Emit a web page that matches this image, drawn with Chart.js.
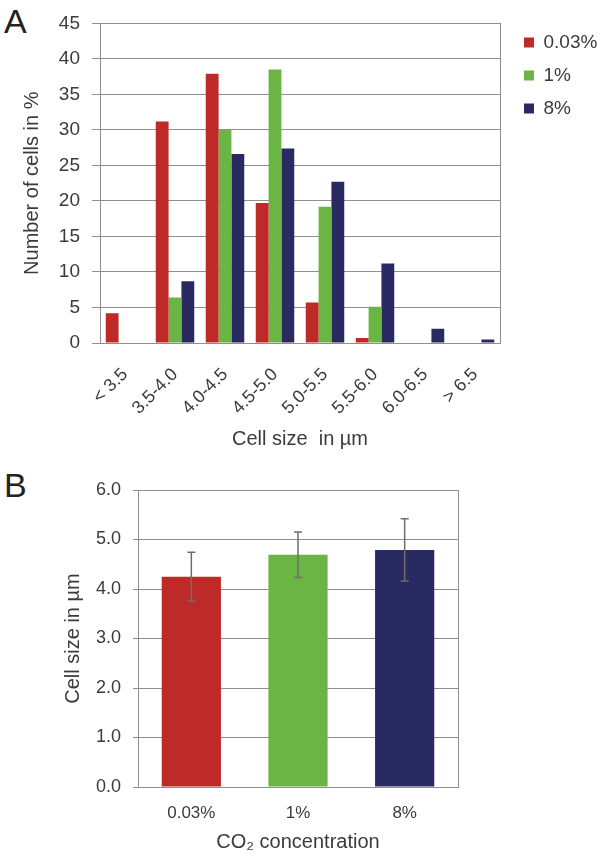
<!DOCTYPE html>
<html>
<head>
<meta charset="utf-8">
<script src="https://cdn.jsdelivr.net/npm/chart.js@4.4.0/dist/chart.umd.min.js"></script>
<style>
  html, body { margin: 0; padding: 0; background: #ffffff; overflow: hidden; }
  body { width: 603px; height: 857px; position: relative; font-family: "Liberation Sans", Arial, sans-serif; }
  .panel-label { position: absolute; font-size: 34px; color: #222; line-height: 1; }
  #wrapA { position: absolute; left: 0; top: 0; width: 603px; height: 455px; }
  #wrapB { position: absolute; left: 0; top: 455px; width: 603px; height: 402px; }
</style>
</head>
<body>
<div class="panel-label" style="left:4px; top:4px;">A</div>
<div class="panel-label" style="left:4px; top:468px;">B</div>
<div id="wrapA"><canvas id="chartA"></canvas></div>
<div id="wrapB"><canvas id="chartB"></canvas></div>
<script>
// ---- Data: panel A (size distribution) ----
const sizeClasses = ['< 3.5', '3.5-4.0', '4.0-4.5', '4.5-5.0', '5.0-5.5', '5.5-6.0', '6.0-6.5', '> 6.5'];
const seriesNames = ['0.03%', '1%', '8%'];
const pct003 = [4.2, 31.2, 37.9, 19.7, 5.7, 0.7, 0, 0];
const pct1   = [0, 6.4, 30.0, 38.5, 19.2, 5.1, 0, 0];
const pct8   = [0, 8.7, 26.6, 27.4, 22.7, 11.2, 2.0, 0.5];
const yTicksA = [0, 5, 10, 15, 20, 25, 30, 35, 40, 45];

// ---- Data: panel B (mean cell size) ----
const co2Levels = ['0.03%', '1%', '8%'];
const meanSize  = [4.25, 4.69, 4.79];
const sdSize    = [0.49, 0.46, 0.63];
const yTicksB = [0, 1, 2, 3, 4, 5, 6];

const colors = ['#bd2a27', '#6bb544', '#2a2a62'];
const gridColor = '#8f8f8f';
const textColor = '#3b3b3b';
const FONT = '"Liberation Sans", Arial, sans-serif';

Chart.defaults.font.family = FONT;
Chart.defaults.color = textColor;

// Chart A
new Chart(document.getElementById('chartA'), {
  type: 'bar',
  data: {
    labels: sizeClasses,
    datasets: [
      { label: seriesNames[0], data: pct003, backgroundColor: colors[0] },
      { label: seriesNames[1], data: pct1, backgroundColor: colors[1] },
      { label: seriesNames[2], data: pct8, backgroundColor: colors[2] }
    ]
  },
  options: {
    responsive: true,
    maintainAspectRatio: false,
    animation: false,
    devicePixelRatio: 1,
    layout: { padding: { left: 0, top: 19, right: 0, bottom: 0 } },
    datasets: { bar: { categoryPercentage: 0.77, barPercentage: 1.0 } },
    plugins: {
      tooltip: { enabled: false },
      legend: {
        position: 'right',
        align: 'start',
        maxWidth: 93,
        labels: {
          boxWidth: 10, boxHeight: 10, padding: 14,
          font: { size: 19, family: FONT }, color: textColor
        }
      }
    },
    scales: {
      x: {
        grid: { display: false, drawTicks: false },
        border: { display: true, color: gridColor, width: 1 },
        ticks: {
          autoSkip: false, minRotation: 45, maxRotation: 45, padding: 21,
          font: { size: 18, family: FONT }, color: textColor
        },
        title: {
          display: true, text: 'Cell size  in µm',
          font: { size: 20, family: FONT }, color: textColor,
          padding: { top: 0, bottom: 4 }
        },
        afterFit: (s) => { s.height = 112; }
      },
      y: {
        min: 0, max: 45,
        afterBuildTicks: (s) => { s.ticks = yTicksA.map(v => ({ value: v })); },
        grid: { color: gridColor, lineWidth: 1, tickLength: 8, tickColor: gridColor },
        border: { display: true, color: gridColor, width: 1 },
        ticks: { padding: 12, font: { size: 19, family: FONT }, color: textColor },
        title: {
          display: true, text: 'Number of cells in %',
          font: { size: 20, family: FONT }, color: textColor,
          padding: { top: 20, bottom: 0 }
        },
        afterFit: (s) => { s.width = 100; }
      },
      y2: {
        position: 'right', min: 0, max: 45,
        grid: { display: false, drawTicks: false },
        border: { display: true, color: gridColor, width: 1 },
        ticks: { display: false },
        afterFit: (s) => { s.width = 10; }
      }
    }
  }
});

// Error bar plugin for chart B
const errorBars = {
  id: 'errorBars',
  afterDatasetsDraw(chart) {
    const ctx = chart.ctx;
    const meta = chart.getDatasetMeta(0);
    const yScale = chart.scales.y;
    ctx.save();
    ctx.strokeStyle = '#6e6e6e';
    ctx.lineWidth = 1.5;
    meta.data.forEach((bar, i) => {
      const x = bar.x;
      const yTop = yScale.getPixelForValue(meanSize[i] + sdSize[i]);
      const yBot = yScale.getPixelForValue(meanSize[i] - sdSize[i]);
      const cap = 4;
      ctx.beginPath();
      ctx.moveTo(x, yTop); ctx.lineTo(x, yBot);
      ctx.moveTo(x - cap, yTop); ctx.lineTo(x + cap, yTop);
      ctx.moveTo(x - cap, yBot); ctx.lineTo(x + cap, yBot);
      ctx.stroke();
    });
    ctx.restore();
  }
};

// Chart B
new Chart(document.getElementById('chartB'), {
  type: 'bar',
  data: {
    labels: co2Levels,
    datasets: [
      { label: 'Cell size', data: meanSize, backgroundColor: colors }
    ]
  },
  plugins: [errorBars],
  options: {
    responsive: true,
    maintainAspectRatio: false,
    animation: false,
    devicePixelRatio: 1,
    layout: { padding: { left: 0, top: 35, right: 145, bottom: 0 } },
    datasets: { bar: { categoryPercentage: 0.555, barPercentage: 1.0 } },
    plugins: {
      tooltip: { enabled: false },
      legend: { display: false }
    },
    scales: {
      x: {
        grid: { display: false, drawTicks: false },
        border: { display: true, color: gridColor, width: 1 },
        ticks: { padding: 16, font: { size: 17, family: FONT }, color: textColor },
        title: {
          display: true, text: 'CO₂ concentration',
          font: { size: 20, family: FONT }, color: textColor,
          padding: { top: 0, bottom: 3 }
        },
        afterFit: (s) => { s.height = 70; }
      },
      y: {
        min: 0, max: 6,
        afterBuildTicks: (s) => { s.ticks = yTicksB.map(v => ({ value: v })); },
        grid: { color: gridColor, lineWidth: 1, tickLength: 5, tickColor: gridColor },
        border: { display: true, color: gridColor, width: 1 },
        ticks: {
          padding: 12, font: { size: 18, family: FONT }, color: textColor,
          callback: (v) => Number(v).toFixed(1)
        },
        title: {
          display: true, text: 'Cell size in µm',
          font: { size: 20, family: FONT }, color: textColor,
          padding: { top: 61, bottom: 0 }
        },
        afterFit: (s) => { s.width = 138; }
      },
      y2: {
        position: 'right', min: 0, max: 6,
        grid: { display: false, drawTicks: false },
        border: { display: true, color: gridColor, width: 1 },
        ticks: { display: false },
        afterFit: (s) => { s.width = 0; }
      }
    }
  }
});
</script>
</body>
</html>
